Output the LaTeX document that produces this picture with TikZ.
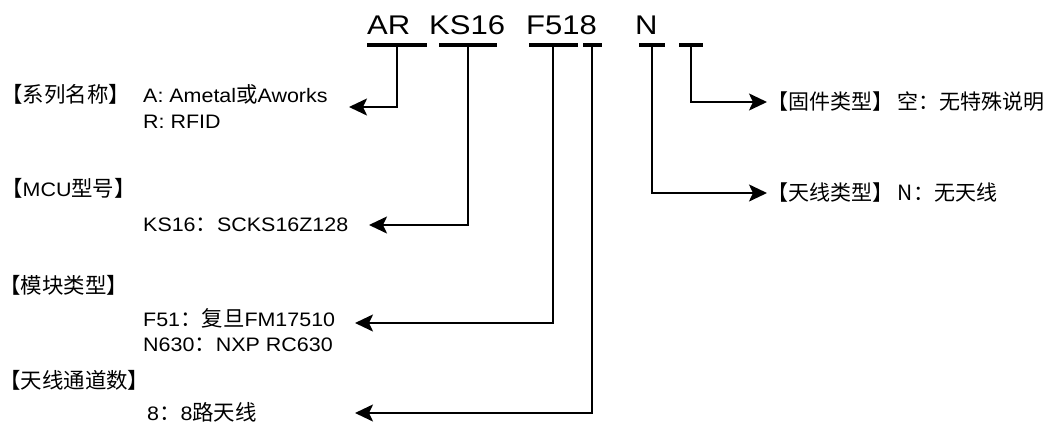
\documentclass[tikz,border=0pt]{standalone}
\usepackage{fontspec}
\setmainfont{Liberation Sans}[FakeStretch=1.1]
\newfontfamily\cjk{Noto Sans CJK SC}[Scale=1.1]
\newfontfamily\cjkr{Noto Sans CJK SC}
\newfontfamily\codefont{Liberation Sans}[FakeStretch=1.15]
\newcommand{\zh}[1]{{\cjk #1}}
\usetikzlibrary{arrows.meta, positioning, calc}

\begin{document}
\begin{tikzpicture}[x=1pt, y=-1pt, >={Stealth[length=18pt, width=17pt, inset=4pt]},
    bar/.style={fill=black, inner sep=0pt, minimum height=4pt},
    lead/.style={->, line width=2pt},
    code/.style={anchor=base west, inner sep=0pt, font=\codefont\fontsize{27}{27}\selectfont},
    txt/.style={anchor=west, inner sep=0pt, align=left, font=\fontsize{19.5}{25.5}\selectfont},
    note/.style={anchor=west, inner sep=0pt, font=\cjkr\fontsize{21}{24}\selectfont}]
    \useasboundingbox (0,0) rectangle (1051,423);
    % part number
    \node[code] (tAR) at (367,34) {AR};
    \node[code] (tKS) at (429,34) {KS16};
    \node[code] (tF) at (526,34) {F518};
    \node[code] (tN) at (635,34) {N};
    \node[bar, minimum width=60pt] (barAR) at (397,45) {};
    \node[bar, minimum width=58pt] (barKS) at (468,45) {};
    \node[bar, minimum width=49pt] (barMod) at (553,45) {};
    \node[bar, minimum width=19pt] (barCh) at (592,45) {};
    \node[bar, minimum width=26pt] (barN) at (652,45) {};
    \node[bar, minimum width=24pt] (barFw) at (691,45) {};
    % left side
    \node[txt] (lSeries) at (1,94) {\zh{【系列名称】}};
    \node[txt] (dSeries) at (143,106.5) {A: Ametal\zh{或}Aworks\\R: RFID};
    \node[txt] (lMcu) at (1,188) {\zh{【}MCU\zh{型号】}};
    \node[txt] (dMcu) at (143,225) {KS16\zh{：}SCKS16Z128};
    \node[txt] (lMod) at (-1,285) {\zh{【模块类型】}};
    \node[txt] (dMod) at (143,330) {F51\zh{：复旦}FM17510\\N630\zh{：}NXP RC630};
    \node[txt] (lCh) at (-1,380) {\zh{【天线通道数】}};
    \node[txt] (dCh) at (147,412) {8\zh{：}8\zh{路天线}};
    \coordinate (tipSeries) at (349,107);
    \coordinate (tipMcu) at (369,225);
    \coordinate (tipMod) at (355,323);
    \coordinate (tipCh) at (355,413);
    % right side
    \node[note] (nFw) at (767,102) {【固件类型】 空：无特殊说明};
    \node[note] (nAnt) at (767,193) {【天线类型】 N：无天线};
    % leaders
    \draw[lead] (barAR.south) |- (tipSeries);
    \draw[lead] (barKS.south) |- (tipMcu);
    \draw[lead] (barMod.south) |- (tipMod);
    \draw[lead] (barCh.south) |- (tipCh);
    \draw[lead] (barN.south) |- (nAnt.west);
    \draw[lead] (barFw.south) |- (nFw.west);
\end{tikzpicture}
\end{document}
